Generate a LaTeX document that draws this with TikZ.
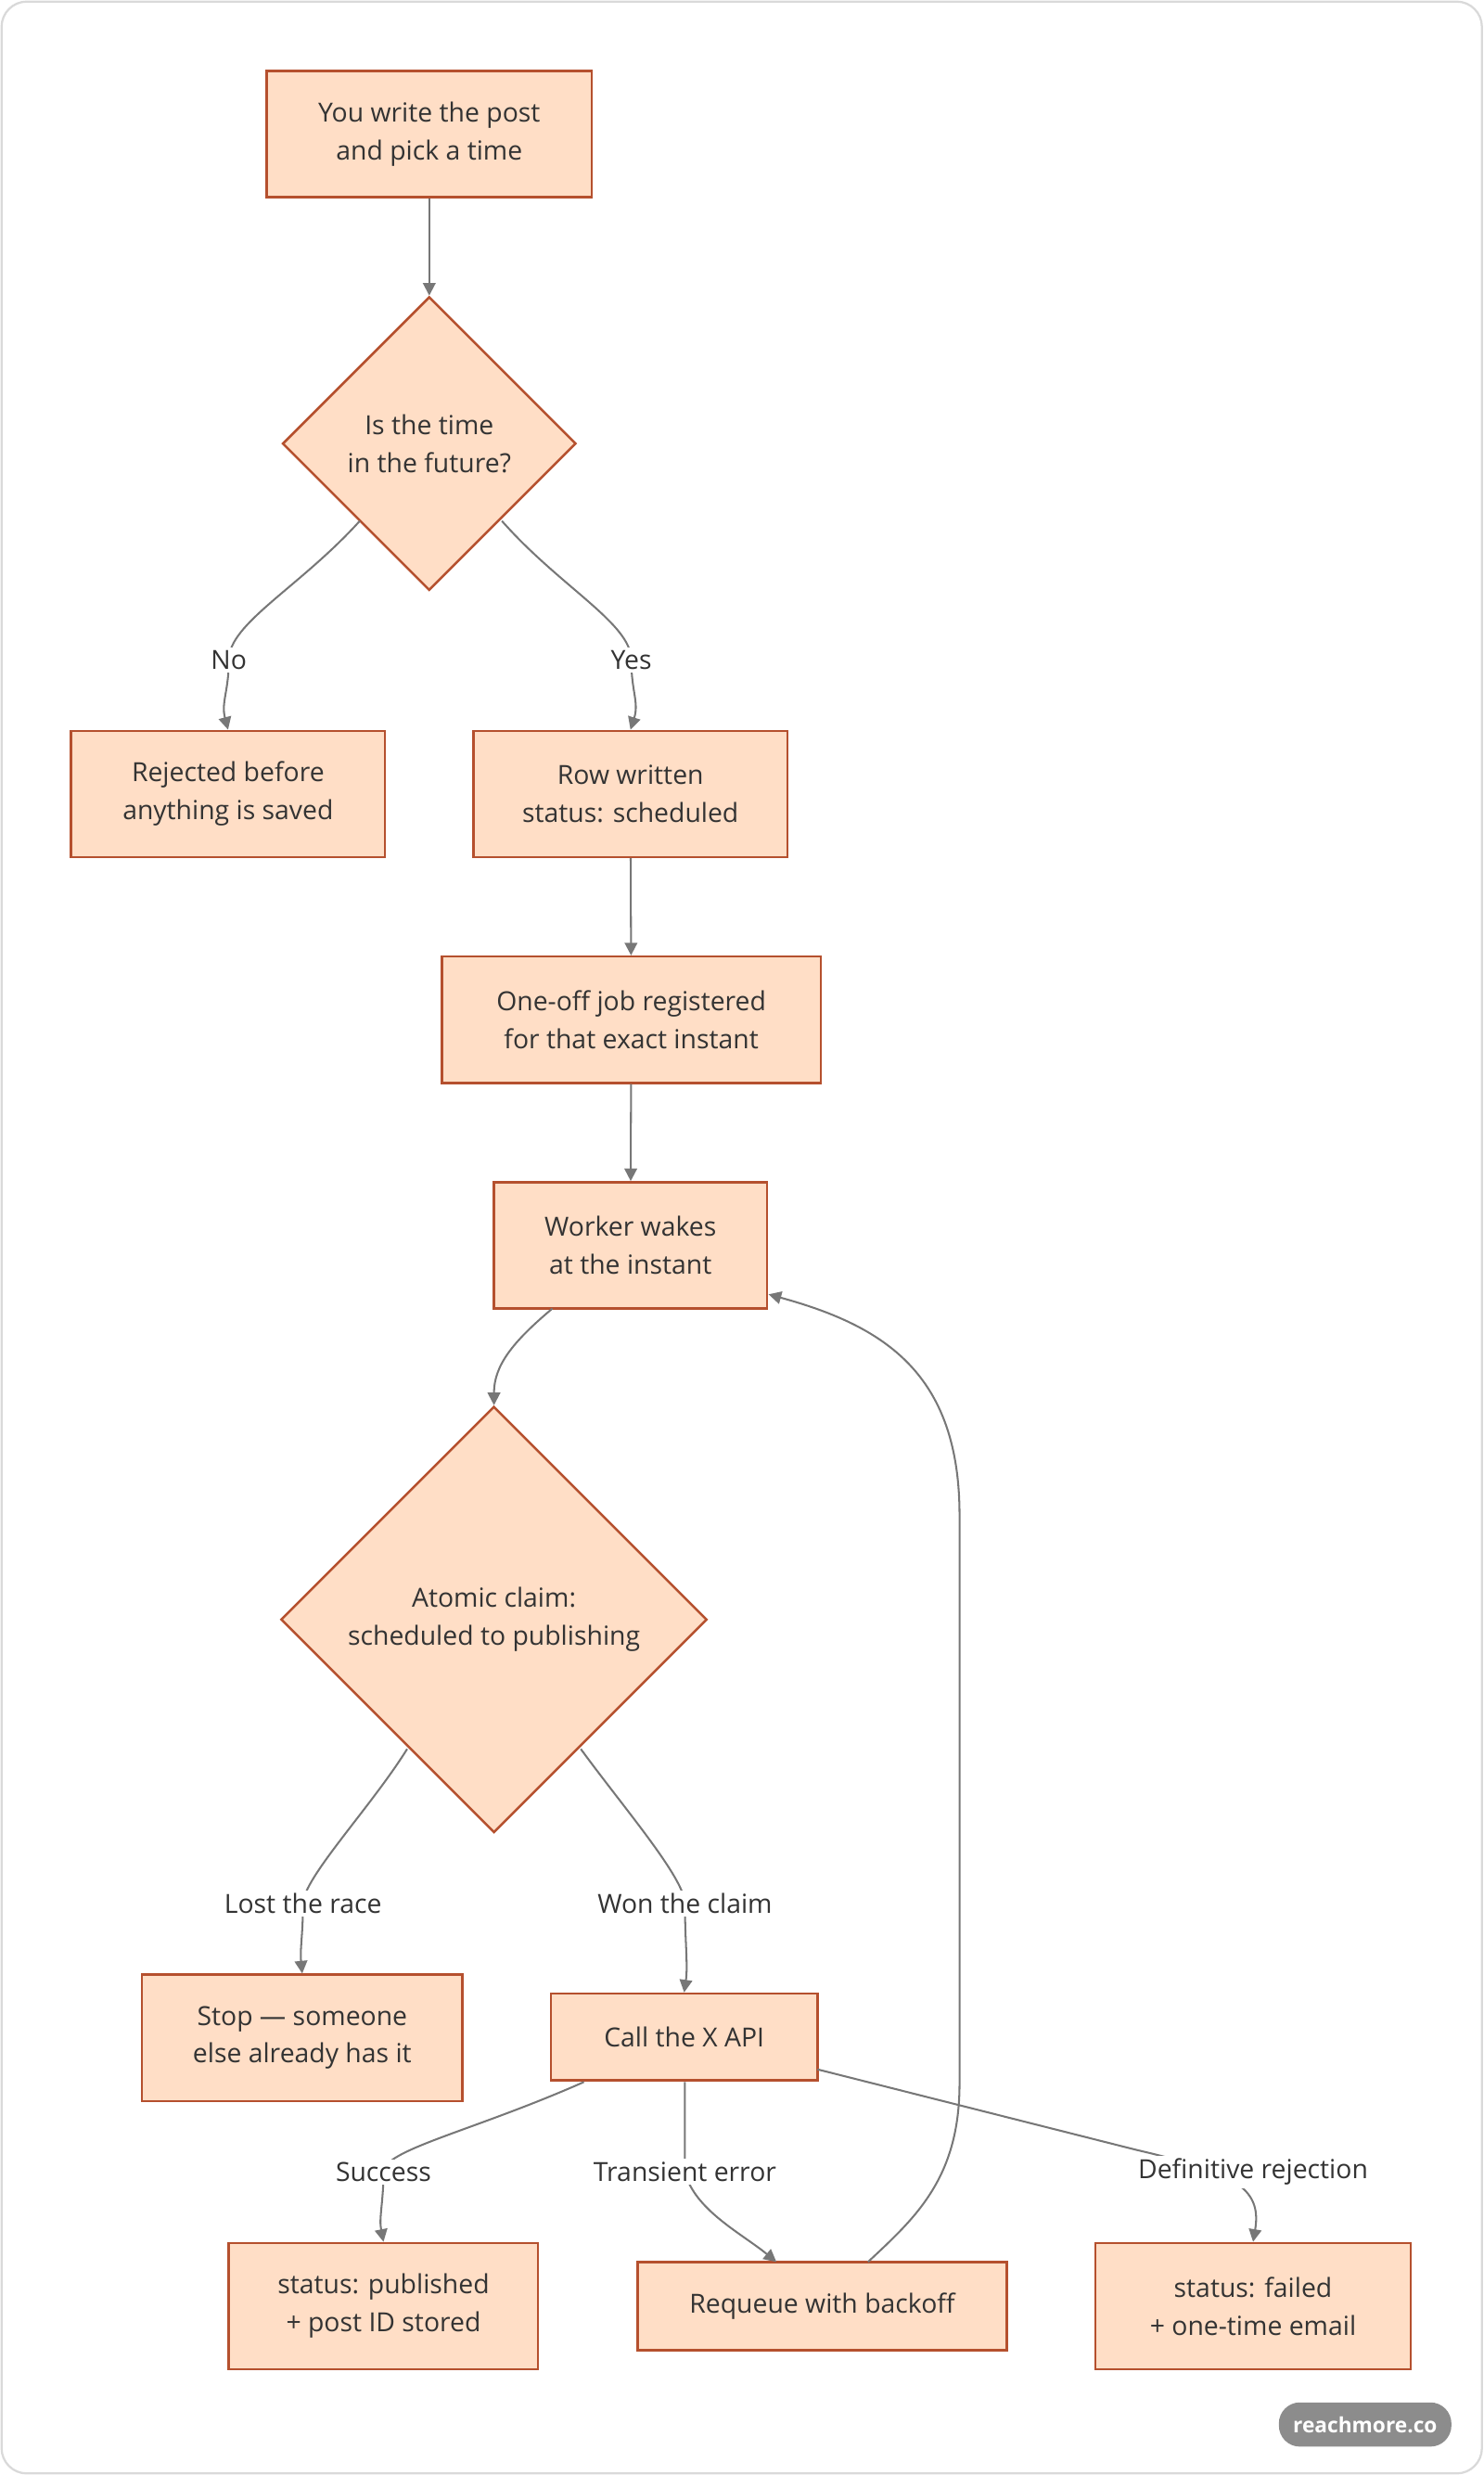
\documentclass[tikz,border=0pt]{standalone}
\usepackage{fontspec}
\setmainfont{Open Sans}
\usetikzlibrary{shapes.geometric,arrows.meta}
\definecolor{pfill}{HTML}{FFDEC6}
\definecolor{pdraw}{HTML}{B5502E}
\definecolor{edge}{HTML}{777777}
\definecolor{txt}{HTML}{333333}
\begin{document}
\begin{tikzpicture}[x=0.75pt,y=-0.75pt,
  font=\fontsize{12.5}{18}\selectfont, text=txt,
  box/.style={draw=pdraw,fill=pfill,line width=1.1pt,align=center,minimum height=60pt,inner sep=0pt},
  dia/.style={diamond,draw=pdraw,fill=pfill,line width=1.1pt,align=center,inner sep=0pt},
  arr/.style={draw=edge,line width=0.9pt,-{Triangle[length=6pt,width=6pt]}},
  lab/.style={fill=white,inner sep=1.5pt}]
\useasboundingbox (0,0) rectangle (940,1568);
\draw[draw=black!15,line width=1pt,rounded corners=12pt] (1,1) rectangle (939,1567);

\node[box,minimum width=154.5pt] (write) at (272,85) {You write the post\\and pick a time};
\node[dia,minimum width=139.5pt,minimum height=139.5pt] (d1) at (272,281) {Is the time\\in the future?};
\node[box,minimum width=149.25pt] (rej) at (144.5,503) {Rejected before\\anything is saved};
\node[box,minimum width=149.25pt] (row) at (399.5,503) {Row written\\status: scheduled};
\node[box,minimum width=180pt] (job) at (400,646) {One-off job registered\\for that exact instant};
\node[box,minimum width=129.75pt] (work) at (399.5,789) {Worker wakes\\at the instant};
\node[dia,minimum width=202.5pt,minimum height=202.5pt] (d2) at (313,1026) {Atomic claim:\\scheduled to publishing};
\node[box,minimum width=152.25pt] (stop) at (191.5,1291) {Stop — someone\\else already has it};
\node[box,minimum width=126.75pt,minimum height=41.25pt] (call) at (433.5,1290.5) {Call the X API};
\node[box,minimum width=147pt] (pub) at (243,1461) {status: published\\+ post ID stored};
\node[box,minimum width=175.5pt,minimum height=42pt] (req) at (521,1461) {Requeue with backoff};
\node[box,minimum width=150pt] (fail) at (794,1461) {status: failed\\+ one-time email};

\coordinate (c1) at (228,330);
\coordinate (c2) at (318,330);
\coordinate (c3) at (258,1108);
\coordinate (c4) at (368,1108);
\coordinate (c5) at (370,1319);
\coordinate (c6) at (434,1319);
\coordinate (c7) at (518,1311);
\coordinate (c8) at (550,1433);
\coordinate (c9) at (350,829);
\coordinate (c10) at (487,820);
\coordinate (c11) at (492,1433);

\draw[arr] (write) -- (d1);
\draw[arr] (c1) .. controls (190,372) and (145,395) .. (145,418) .. controls (145,438) and (140,445) .. (rej.north);
\draw[arr] (c2) .. controls (355,372) and (400,395) .. (400,418) .. controls (400,438) and (405,445) .. (row.north);
\draw[arr] (row) -- (job);
\draw[arr] (job) -- (work);
\draw[arr] (c9) .. controls (325,850) and (313,865) .. (d2.north);
\draw[arr] (c3) .. controls (235,1145) and (192,1190) .. (192,1206) .. controls (192,1225) and (190,1235) .. (stop.north);
\draw[arr] (c4) .. controls (395,1145) and (434,1190) .. (434,1206) .. controls (434,1230) and (436,1245) .. (call.north);
\draw[arr] (c5) .. controls (300,1350) and (243,1362) .. (243,1376) .. controls (243,1395) and (240,1405) .. (pub.north);
\draw[arr] (c6) -- (434,1376) .. controls (440,1400) and (470,1415) .. (c11);
\draw[arr] (c7) -- (720,1362) .. controls (780,1376) and (800,1385) .. (fail.north);
\draw[arr] (c8) .. controls (580,1405) and (608,1380) .. (608,1320) -- (608,960) .. controls (608,870) and (560,840) .. (c10);

\node[lab] (lno) at (145,418) {No};
\node[lab] (lyes) at (400,418) {Yes};
\node[lab] (llost) at (192,1206) {Lost the race};
\node[lab] (lwon) at (434,1206) {Won the claim};
\node[lab] (lsuc) at (243,1376) {Success};
\node[lab] (ltr) at (434,1376) {Transient error};
\node[lab] (ldef) at (794,1376) {Definitive rejection};

\node[fill=black!45,text=white,rounded corners=10pt,minimum width=82pt,minimum height=21pt,inner sep=0pt,font=\fontsize{10}{12}\selectfont\bfseries] (badge) at (865,1536) {reachmore.co};
\end{tikzpicture}
\end{document}
